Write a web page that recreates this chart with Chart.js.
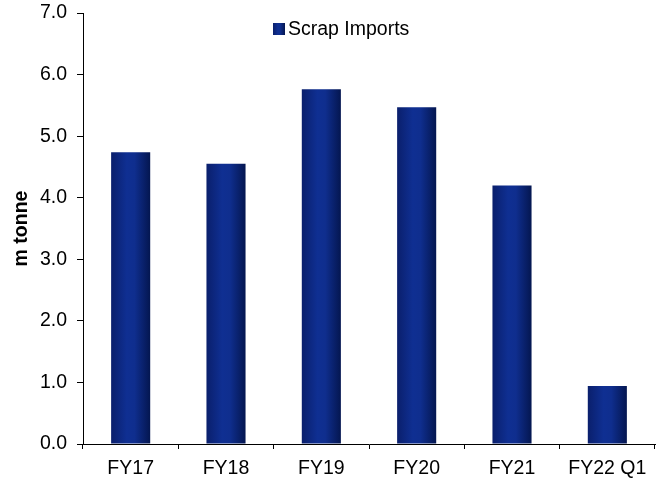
<!DOCTYPE html>
<html>
<head>
<meta charset="utf-8">
<script src="https://cdn.jsdelivr.net/npm/chart.js@4"></script>
<style>
  html, body { margin: 0; padding: 0; background: #ffffff; }
  #wrap { width: 670px; height: 481px; }
</style>
</head>
<body>
<div id="wrap"><canvas id="chart" width="670" height="481"></canvas></div>
<script>
const categories = ["FY17", "FY18", "FY19", "FY20", "FY21", "FY22 Q1"];
const scrapImports = [4.74, 4.55, 5.76, 5.47, 4.20, 0.94];
const seriesName = "Scrap Imports";
const yTitle = "m tonne";

const FONT = "'Liberation Sans', Arial, sans-serif";
const FSIZE = 19.5;
const BAR_PCT = 0.41;

// bars are shaded like a cylinder: dark edges, lighter middle
function barGradient(ctx, x0, x1) {
  const g = ctx.createLinearGradient(x0, 0, x1, 0);
  g.addColorStop(0, "#0a1f6c");
  g.addColorStop(0.4, "#0f2f92");
  g.addColorStop(0.6, "#0f2e8e");
  g.addColorStop(1, "#041650");
  return g;
}

const legendPlugin = {
  id: "insideLegend",
  afterDraw(chart) {
    const ctx = chart.ctx;
    const area = chart.chartArea;
    const x = area.left + 190;
    const y = area.top + 16;
    ctx.save();
    ctx.fillStyle = barGradient(ctx, x, x + 12);
    ctx.fillRect(x, y - 6, 12, 12);
    ctx.fillStyle = "#000000";
    ctx.font = FSIZE + "px " + FONT;
    ctx.textBaseline = "middle";
    ctx.textAlign = "left";
    ctx.fillText(seriesName, x + 15, y + 1);
    ctx.restore();
  }
};

new Chart(document.getElementById("chart").getContext("2d"), {
  type: "bar",
  data: {
    labels: categories,
    datasets: [{
      label: seriesName,
      data: scrapImports,
      backgroundColor: (c) => {
        const sc = c.chart.scales && c.chart.scales.x;
        if (!sc || c.dataIndex === undefined || !sc.width) return "#0f2e8e";
        const cx = sc.getPixelForValue(c.dataIndex);
        const w = sc.width / categories.length * BAR_PCT;
        return barGradient(c.chart.ctx, cx - w / 2, cx + w / 2);
      },
      borderWidth: 0,
      categoryPercentage: 1,
      barPercentage: BAR_PCT
    }]
  },
  options: {
    responsive: false,
    animation: false,
    layout: { padding: { top: 13, right: 15, left: 0, bottom: 0 } },
    plugins: {
      legend: { display: false },
      tooltip: { enabled: false }
    },
    scales: {
      x: {
        grid: {
          offset: true,
          drawOnChartArea: false,
          color: "#000000",
          tickLength: 5
        },
        border: { color: "#000000", width: 1 },
        ticks: {
          color: "#000000",
          font: { family: FONT, size: FSIZE },
          padding: 8,
          maxRotation: 0
        },
        afterFit: (s) => { s.height = 37; }
      },
      y: {
        min: 0,
        max: 7,
        grid: {
          drawOnChartArea: false,
          color: "#000000",
          tickLength: 6
        },
        border: { color: "#000000", width: 1 },
        ticks: {
          stepSize: 1,
          color: "#000000",
          font: { family: FONT, size: FSIZE },
          padding: 10,
          callback: (v) => v.toFixed(1)
        },
        title: {
          display: true,
          text: yTitle,
          color: "#000000",
          font: { family: FONT, size: FSIZE, weight: "bold" },
          padding: { top: 10, bottom: 0 }
        },
        afterFit: (s) => {
          s.width = 83;
          s.paddingTop = 0;
          s.paddingBottom = 0;
        }
      }
    }
  },
  plugins: [legendPlugin]
});
</script>
</body>
</html>
